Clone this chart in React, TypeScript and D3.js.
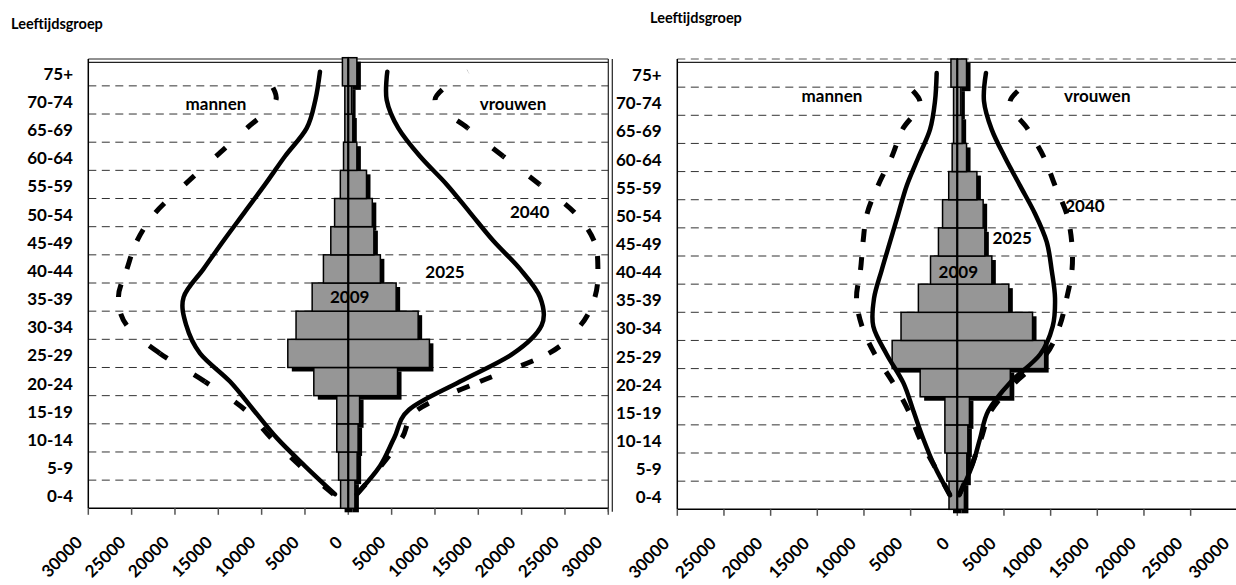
import React from 'react';
import * as d3 from 'd3';

// Age groups, bottom to top
const categories = ['0-4', '5-9', '10-14', '15-19', '20-24', '25-29', '30-34', '35-39', '40-44', '45-49', '50-54', '55-59', '60-64', '65-69', '70-74', '75+'];

// 2009 population (bars)
const men2009 = [890, 1120, 1330, 1330, 3980, 6980, 6030, 4170, 2870, 2020, 1580, 920, 550, 400, 400, 680];
const women2009 = [760, 1020, 1130, 1300, 5680, 9360, 8060, 5520, 3700, 2950, 2770, 2100, 990, 520, 380, 990];

// Left panel projections
const leftMen2025 = [1540, 5000, 8260, 10960, 13650, 17110, 18700, 19000, 16700, 14400, 12000, 9600, 7300, 4800, 3800, 3270];
const leftWomen2025 = [970, 3660, 5300, 7000, 12890, 19040, 22310, 22120, 19810, 16730, 14040, 11350, 8270, 5770, 4430, 4500];
const leftMen2040 = [1700, 5520, 8920, 11920, 16540, 21730, 25570, 26520, 25540, 24380, 22250, 18850, 15270, 11690, 8340, 10000];
const leftWomen2040 = [1000, 3770, 6200, 8000, 15200, 23130, 26800, 28460, 28800, 28350, 26100, 22080, 17870, 13790, 10000, 13830];

// Right panel projections
const rightMen2025 = [780, 2390, 3640, 4710, 5790, 7560, 9000, 8920, 8100, 7210, 6320, 5420, 4180, 2920, 2390, 2210];
const rightWomen2025 = [200, 1540, 2430, 3320, 5650, 8860, 10220, 10470, 10110, 9580, 8330, 6720, 5110, 3680, 2860, 3070];
const rightMen2040 = [780, 2390, 4000, 5230, 6890, 8820, 10210, 10800, 10370, 10100, 9670, 8500, 7050, 5870, 4000, 7000];
const rightWomen2040 = [200, 1470, 2540, 3610, 6180, 9500, 10950, 11720, 12290, 12260, 11720, 10470, 9290, 7570, 5650, 9000];

const xTicks = [-30000, -25000, -20000, -15000, -10000, -5000, 0, 5000, 10000, 15000, 20000, 25000, 30000];
const xDomain = [-30000, 30000];

const leftAnnotations = [
  { text: 'mannen', x: -15270, y: 13.64 },
  { text: 'vrouwen', x: 19000, y: 13.64 },
  { text: '2040', x: 20930, y: 9.81 },
  { text: '2025', x: 11160, y: 7.68 },
  { text: '2009', x: 160, y: 6.79 },
];
const rightAnnotations = [
  { text: 'mannen', x: -13430, y: 13.98 },
  { text: 'vrouwen', x: 14990, y: 13.98 },
  { text: '2040', x: 13680, y: 10.07 },
  { text: '2025', x: 5890, y: 8.93 },
  { text: '2009', x: 110, y: 7.71 },
];

const FONT = "Lato, 'Open Sans', sans-serif";
const BAR_FILL = '#969696';

type Panel = {
  left: number; right: number; top: number; bottom: number;
  labelRight: number; titleX: number; titleY: number;
  men25: number[]; women25: number[]; men40: number[]; women40: number[];
  annotations: { text: string; x: number; y: number }[];
  topDashed: boolean; rightBorder: boolean; tickDx: number;
};

function segmentsPaths(pts: [number, number][]): string[] {
  const k = 1 / 6;
  const n = pts.length;
  const out: string[] = [];
  for (let i = 0; i < n - 1; i++) {
    const p0 = pts[i], p1 = pts[i + 1];
    const prev = i === 0 ? pts[i + 1] : pts[i - 1];
    const nxt = i + 1 === n - 1 ? pts[i] : pts[i + 2];
    const c1 = [p0[0] + k * (p1[0] - prev[0]), p0[1] + k * (p1[1] - prev[1])];
    const c2 = [p1[0] + k * (p0[0] - nxt[0]), p1[1] + k * (p0[1] - nxt[1])];
    const p = d3.path();
    p.moveTo(p0[0], p0[1]);
    p.bezierCurveTo(c1[0], c1[1], c2[0], c2[1], p1[0], p1[1]);
    out.push(p.toString());
  }
  return out;
}

function PyramidPanel({ cfg }: { cfg: Panel }) {
  const xs = d3.scaleLinear().domain(xDomain).range([cfg.left, cfg.right]);
  const yBand = d3.scaleBand().domain(categories).range([cfg.bottom, cfg.top]).padding(0);
  const yLin = d3.scaleLinear().domain([-0.5, categories.length - 0.5]).range([cfg.bottom, cfg.top]);
  const bw = yBand.bandwidth();
  const x0 = xs(0);
  const lineGen = d3.line<[number, number]>().x(d => d[0]).y(d => d[1]).curve(d3.curveCardinal.tension(0));

  const ptsMen = (vals: number[]) => vals.map((v, i) => [xs(-v), yLin(i)] as [number, number]);
  const ptsWomen = (vals: number[]) => vals.map((v, i) => [xs(v), yLin(i)] as [number, number]);

  const gridYs = d3.range(1, categories.length).map(i => yLin(i - 0.5));
  const shadowOff = 4;

  return (
    <g>
      <text x={cfg.titleX} y={cfg.titleY} fontFamily={FONT} fontWeight="bold" fontSize={14.5} fill="#000">Leeftijdsgroep</text>
      {gridYs.map((y, i) => (
        <line key={'g' + i} x1={cfg.left} x2={cfg.right} y1={y} y2={y} stroke="#333" strokeWidth={1} strokeDasharray="8 5.5" />
      ))}
      <line x1={cfg.left} x2={cfg.right} y1={59} y2={59} stroke={cfg.topDashed ? '#555' : '#222'} strokeWidth={1} strokeDasharray={cfg.topDashed ? '8 5.5' : undefined} />
      <line x1={cfg.left} x2={cfg.right} y1={62.3} y2={62.3} stroke="#222" strokeWidth={1.2} />
      {cfg.rightBorder && (
        <g>
          <line x1={cfg.right} x2={cfg.right} y1={59} y2={cfg.bottom + 3.5} stroke="#222" strokeWidth={1.2} />
          <line x1={cfg.right + 4} x2={cfg.right + 4} y1={59} y2={cfg.bottom + 3.5} stroke="#222" strokeWidth={1.2} />
        </g>
      )}
      <line x1={cfg.left} x2={cfg.left} y1={59} y2={cfg.bottom} stroke="#000" strokeWidth={1.5} />
      <line x1={cfg.left} x2={cfg.right} y1={cfg.bottom} y2={cfg.bottom} stroke="#000" strokeWidth={1.5} />
      {xTicks.map(t => {
        const tx = xs(t) + cfg.tickDx;
        const ty = cfg.bottom + 31;
        return (
          <g key={'t' + t}>
            <line x1={xs(t)} x2={xs(t)} y1={cfg.bottom} y2={cfg.bottom + 6.5} stroke="#555" strokeWidth={1.5} />
            <text
              transform={`translate(${tx},${ty}) rotate(-45)`}
              x={0} y={0} dy="0.35em"
              textAnchor="end"
              fontFamily={FONT} fontWeight="bold" fontSize={17} fill="#000"
            >{String(Math.abs(t))}</text>
          </g>
        );
      })}
      {categories.map((c, i) => (
        <text key={'c' + c} x={cfg.labelRight} y={yLin(i) + 8} textAnchor="end" fontFamily={FONT} fontWeight="bold" fontSize={17} fill="#000">{c}</text>
      ))}
      {categories.map((c, i) => (
        <g key={'s' + c}>
          <rect x={xs(-men2009[i]) + shadowOff} y={(yBand(c) as number) + shadowOff} width={x0 - xs(-men2009[i])} height={bw} fill="#000" />
          <rect x={x0 + shadowOff} y={(yBand(c) as number) + shadowOff} width={xs(women2009[i]) - x0} height={bw} fill="#000" />
        </g>
      ))}
      {categories.map((c, i) => (
        <g key={'b' + c}>
          <rect x={xs(-men2009[i])} y={yBand(c) as number} width={x0 - xs(-men2009[i])} height={bw} fill={BAR_FILL} stroke="#000" strokeWidth={1.5} />
          <rect x={x0} y={yBand(c) as number} width={xs(women2009[i]) - x0} height={bw} fill={BAR_FILL} stroke="#000" strokeWidth={1.5} />
        </g>
      ))}
      <line x1={x0} x2={x0} y1={59} y2={cfg.bottom} stroke="#000" strokeWidth={2} />
      <path d={lineGen(ptsMen(cfg.men25)) || ''} fill="none" stroke="#000" strokeWidth={4.5} strokeLinecap="round" />
      <path d={lineGen(ptsWomen(cfg.women25)) || ''} fill="none" stroke="#000" strokeWidth={4.5} strokeLinecap="round" />
      {segmentsPaths(ptsMen(cfg.men40)).map((d, i) => (
        <path key={'dm' + i} d={d} fill="none" stroke="#000" strokeWidth={5} strokeDasharray="13 31" />
      ))}
      {segmentsPaths(ptsWomen(cfg.women40)).map((d, i) => (
        <path key={'dw' + i} d={d} fill="none" stroke="#000" strokeWidth={5} strokeDasharray="13 31" />
      ))}
      {cfg.annotations.map(a => (
        <text key={'a' + a.text} x={xs(a.x)} y={yLin(a.y)} textAnchor="middle" fontFamily={FONT} fontWeight="bold" fontSize={17} fill="#000">{a.text}</text>
      ))}
    </g>
  );
}

export default function App() {
  const leftPanel: Panel = {
    left: 88.3, right: 608.3, top: 57.7, bottom: 508.3,
    labelRight: 73, titleX: 11, titleY: 28.5,
    men25: leftMen2025, women25: leftWomen2025, men40: leftMen2040, women40: leftWomen2040,
    annotations: leftAnnotations, topDashed: false, rightBorder: true, tickDx: -9,
  };
  const rightPanel: Panel = {
    left: 677.3, right: 1237.3, top: 59, bottom: 509.3,
    labelRight: 661.7, titleX: 650, titleY: 22.5,
    men25: rightMen2025, women25: rightWomen2025, men40: rightMen2040, women40: rightWomen2040,
    annotations: rightAnnotations, topDashed: true, rightBorder: false, tickDx: -11,
  };
  return (
    <svg width={1236} height={585} style={{ position: 'absolute', left: 0, top: 0, background: '#fff' }}>
      <rect x={0} y={0} width={1236} height={585} fill="#fff" />
      <PyramidPanel cfg={leftPanel} />
      <PyramidPanel cfg={rightPanel} />
    </svg>
  );
}
